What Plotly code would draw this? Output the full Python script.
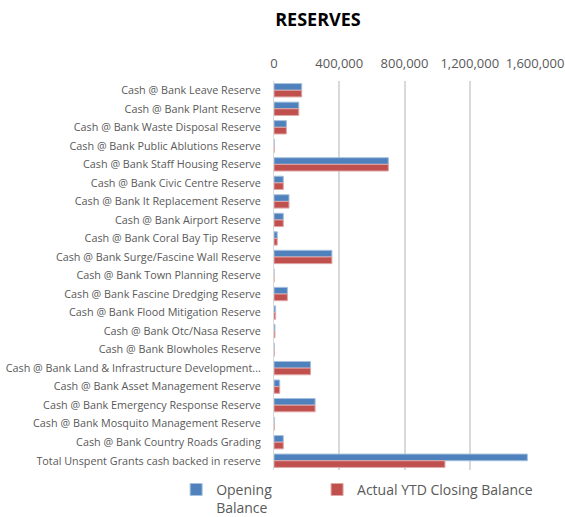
import plotly.graph_objects as go

categories = [
    "Cash @ Bank Leave Reserve",
    "Cash @ Bank Plant Reserve",
    "Cash @ Bank Waste Disposal Reserve",
    "Cash @ Bank Public Ablutions Reserve",
    "Cash @ Bank Staff Housing Reserve",
    "Cash @ Bank Civic Centre Reserve",
    "Cash @ Bank It Replacement Reserve",
    "Cash @ Bank Airport Reserve",
    "Cash @ Bank Coral Bay Tip Reserve",
    "Cash @ Bank Surge/Fascine Wall Reserve",
    "Cash @ Bank Town Planning Reserve",
    "Cash @ Bank Fascine Dredging Reserve",
    "Cash @ Bank Flood Mitigation Reserve",
    "Cash @ Bank Otc/Nasa Reserve",
    "Cash @ Bank Blowholes Reserve",
    "Cash @ Bank Land & Infrastructure Development...",
    "Cash @ Bank Asset Management Reserve",
    "Cash @ Bank Emergency Response Reserve",
    "Cash @ Bank Mosquito Management Reserve",
    "Cash @ Bank Country Roads Grading",
    "Total Unspent Grants cash backed in reserve",
]

opening_balance = [170000, 152000, 76000, 1000, 701000, 57000, 92000, 57000, 20000,
                   355000, 0, 82000, 10000, 6000, 1000, 224000, 35000, 252000,
                   1000, 57000, 1553000]
closing_balance = [170000, 152000, 76000, 1000, 701000, 57000, 92000, 57000, 20000,
                   355000, 0, 82000, 10000, 6000, 1000, 224000, 35000, 252000,
                   1000, 57000, 1048000]

x_ticks = [0, 400000, 800000, 1200000, 1600000]
x_tick_labels = ["0", "400,000", "800,000", "1,200,000", "1,600,000"]

FONT = "Open Sans"
GREY = "#595959"

fig = go.Figure()
fig.add_trace(go.Bar(
    y=categories, x=opening_balance, orientation="h",
    name="Opening<br>Balance", legend="legend",
    marker=dict(color="#4F81BD", line=dict(color="#A7C0DE", width=1)),
))
fig.add_trace(go.Bar(
    y=categories, x=closing_balance, orientation="h",
    name="Actual YTD Closing Balance", legend="legend2",
    marker=dict(color="#C0504D", line=dict(color="#DFA7A6", width=1)),
))

legend_style = dict(orientation="h", yanchor="top", y=-0.01, valign="top",
                    font=dict(size=14, color=GREY), itemwidth=30,
                    bgcolor="rgba(0,0,0,0)")

fig.update_layout(
    width=565, height=517,
    margin=dict(l=274, r=30, t=81, b=47, autoexpand=False),
    paper_bgcolor="white", plot_bgcolor="white",
    barmode="group", bargap=0.28, bargroupgap=0.0,
    font=dict(family=FONT, color=GREY, size=11),
    title=dict(text="<b>RESERVES</b>", x=318 / 565, xanchor="center",
               y=1 - 20 / 517, yanchor="middle",
               font=dict(family=FONT, size=18, color="black")),
    showlegend=True,
    legend=dict(x=-0.375, xanchor="left", **legend_style),
    legend2=dict(x=0.165, xanchor="left", **legend_style),
    xaxis=dict(side="top", range=[0, 1600000], tickvals=x_ticks,
               ticktext=x_tick_labels, showgrid=True, gridcolor="#D9D9D9",
               gridwidth=1.5, zeroline=False, tickfont=dict(size=13, color=GREY),
               tickangle=0, ticks="", ticklabelstandoff=9, automargin=False,
               fixedrange=True),
    yaxis=dict(autorange="reversed", showline=True, linecolor="#D9D9D9",
               linewidth=1, ticks="", tickfont=dict(size=10.8, color=GREY),
               ticklabelstandoff=10, automargin=False),
)

fig.write_html("out.html")
